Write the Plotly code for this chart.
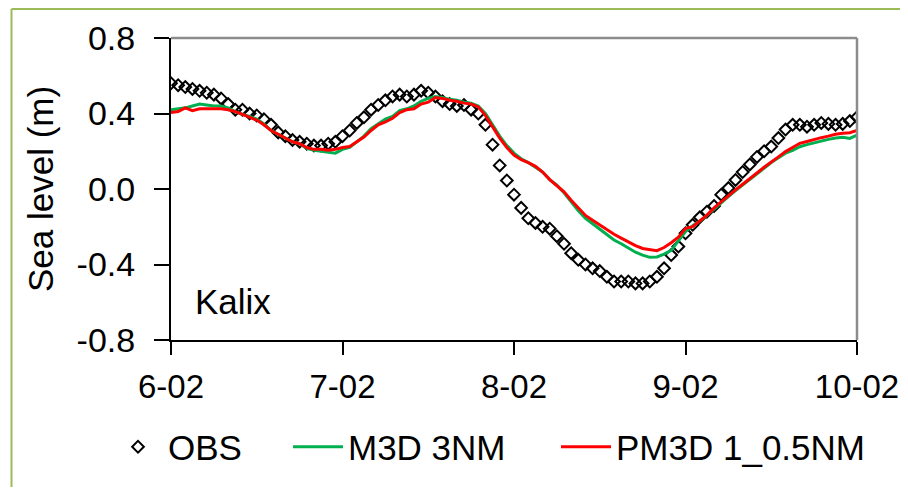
import pandas as pd
import plotly.graph_objects as go

# Hourly time axis, 6-02 00:00 to 10-02 00:00
times = pd.date_range("2000-02-06 00:00", periods=97, freq="h")

obs = [
    0.56, 0.55, 0.54, 0.53, 0.52, 0.51, 0.50, 0.48, 0.45, 0.42, 0.42, 0.40, 0.39, 0.37, 0.34, 0.30,
    0.28, 0.26, 0.25, 0.24, 0.23, 0.23, 0.24, 0.25, 0.28,
    0.31, 0.35, 0.38, 0.42, 0.445, 0.47, 0.49, 0.50, 0.49, 0.50, 0.52, 0.51, 0.49, 0.465, 0.45,
    0.44, 0.445, 0.42, 0.40, 0.34, 0.235, 0.125, 0.045,
    -0.03, -0.10, -0.155, -0.18, -0.20, -0.21, -0.25, -0.29, -0.34, -0.375, -0.40, -0.42, -0.435,
    -0.465, -0.49, -0.49, -0.49, -0.50, -0.50, -0.49, -0.465, -0.42, -0.35, -0.305,
    -0.235, -0.19, -0.15, -0.12, -0.09, -0.03, 0.005, 0.048, 0.09, 0.13, 0.17, 0.20, 0.225, 0.27,
    0.315, 0.34, 0.34, 0.33, 0.34, 0.35, 0.345, 0.34, 0.345, 0.36, 0.38,
]

m3d_3nm = [
    0.42, 0.425, 0.43, 0.44, 0.45, 0.445, 0.44, 0.44, 0.43, 0.41, 0.395, 0.385, 0.37, 0.345, 0.31,
    0.29, 0.27, 0.25, 0.24, 0.215, 0.205, 0.20, 0.195, 0.19, 0.21,
    0.22, 0.25, 0.28, 0.32, 0.345, 0.37, 0.385, 0.415, 0.425, 0.44, 0.465, 0.48, 0.49, 0.485, 0.475,
    0.47, 0.46, 0.455, 0.44, 0.40, 0.34, 0.28, 0.23,
    0.19, 0.16, 0.14, 0.115, 0.09, 0.05, 0.02, -0.02, -0.07, -0.115, -0.155, -0.185, -0.215, -0.245,
    -0.27, -0.29, -0.314, -0.335, -0.35, -0.362, -0.36, -0.345, -0.325, -0.275,
    -0.225, -0.195, -0.17, -0.14, -0.105, -0.07, -0.04, -0.008, 0.022, 0.052, 0.08, 0.11, 0.14,
    0.165, 0.19, 0.205, 0.224, 0.235, 0.245, 0.255, 0.263, 0.27, 0.274, 0.268, 0.286,
]

pm3d_1_05nm = [
    0.405, 0.41, 0.43, 0.415, 0.425, 0.425, 0.425, 0.425, 0.42, 0.41, 0.395, 0.38, 0.365, 0.34, 0.31,
    0.29, 0.27, 0.25, 0.24, 0.22, 0.21, 0.21, 0.205, 0.21, 0.22,
    0.225, 0.25, 0.275, 0.31, 0.34, 0.355, 0.375, 0.405, 0.42, 0.425, 0.45, 0.46, 0.485, 0.48, 0.47,
    0.465, 0.455, 0.45, 0.435, 0.39, 0.33, 0.27, 0.22,
    0.18, 0.155, 0.14, 0.12, 0.09, 0.05, 0.02, -0.015, -0.06, -0.10, -0.14, -0.165, -0.19, -0.215,
    -0.24, -0.26, -0.28, -0.30, -0.315, -0.323, -0.327, -0.31, -0.285, -0.255,
    -0.21, -0.2, -0.17, -0.138, -0.10, -0.067, -0.035, -0.005, 0.025, 0.057, 0.085, 0.115, 0.145,
    0.17, 0.198, 0.22, 0.242, 0.252, 0.263, 0.272, 0.28, 0.29, 0.295, 0.298, 0.31,
]

y_ticks = [-0.8, -0.4, 0.0, 0.4, 0.8]
y_ticktext = ["-0.8", "-0.4", "0.0", "0.4", "0.8"]
x_ticks = pd.date_range("2000-02-06", periods=5, freq="D")
x_ticktext = ["6-02", "7-02", "8-02", "9-02", "10-02"]

FONT = "Liberation Sans, Arial, sans-serif"
FS = 35

W, H = 892, 479  # page body has an 8px margin in the 908x495 window

fig = go.Figure()
fig.add_trace(go.Scatter(
    x=times, y=obs, name="OBS", mode="markers", legend="legend",
    marker=dict(symbol="diamond-open", size=9, color="black", line=dict(width=2, color="black")),
))
fig.add_trace(go.Scatter(
    x=times, y=m3d_3nm, name="M3D 3NM", mode="lines", legend="legend2",
    line=dict(color="#00b050", width=3),
))
fig.add_trace(go.Scatter(
    x=times, y=pm3d_1_05nm, name="PM3D 1_0.5NM", mode="lines", legend="legend3",
    line=dict(color="#ff0000", width=3),
))

leg_common = dict(
    orientation="h", xref="container", yref="container", xanchor="left", yanchor="middle",
    y=1 - 439 / H, font=dict(size=FS), itemwidth=50, bgcolor="rgba(0,0,0,0)",
)

fig.update_layout(
    width=W, height=H,
    margin=dict(l=163, r=43, t=30, b=147, autoexpand=False),
    paper_bgcolor="white", plot_bgcolor="white",
    font=dict(family=FONT, size=FS, color="black"),
    showlegend=True,
    legend=dict(leg_common, x=100 / W),
    legend2=dict(leg_common, x=280 / W),
    legend3=dict(leg_common, x=548 / W),
    xaxis=dict(
        range=[times[0], times[-1]],
        tickvals=list(x_ticks), ticktext=x_ticktext,
        showline=True, linecolor="black", linewidth=2,
        ticks="outside", ticklen=13, tickwidth=1.5, tickcolor="black",
        ticklabelstandoff=3, automargin=False, ticklabeloverflow="allow",
        tickfont=dict(size=33),
        showgrid=False, zeroline=False,
    ),
    yaxis=dict(
        range=[-0.8, 0.8],
        tickvals=y_ticks, ticktext=y_ticktext,
        showline=True, linecolor="black", linewidth=2,
        ticks="outside", ticklen=15, tickwidth=1.5, tickcolor="black",
        ticklabelstandoff=12, automargin=False, tickfont=dict(size=34),
        showgrid=False, zeroline=False,
        title=dict(text="Sea level (m)", font=dict(size=FS), standoff=12),
    ),
    annotations=[
        dict(text="Kalix", xref="paper", yref="paper", x=0.032, y=0.126,
             xanchor="left", yanchor="middle", showarrow=False, font=dict(size=FS)),
    ],
    shapes=[
        # gray top and right frame of plot area
        dict(type="line", xref="paper", yref="paper", x0=0, x1=1, y0=1, y1=1,
             line=dict(color="#8c8c8c", width=2.5)),
        dict(type="line", xref="paper", yref="paper", x0=1, x1=1, y0=0, y1=1,
             line=dict(color="#8c8c8c", width=2.5)),
        # outer green border (top and left)
        dict(type="line", xref="paper", yref="paper", x0=-0.2325, x1=1.2, y0=1.096, y1=1.096,
             line=dict(color="#9bbb59", width=2)),
        dict(type="line", xref="paper", yref="paper", x0=-0.2325, x1=-0.2325, y0=-0.6, y1=1.096,
             line=dict(color="#9bbb59", width=2)),
    ],
)

fig.write_html("out.html")
